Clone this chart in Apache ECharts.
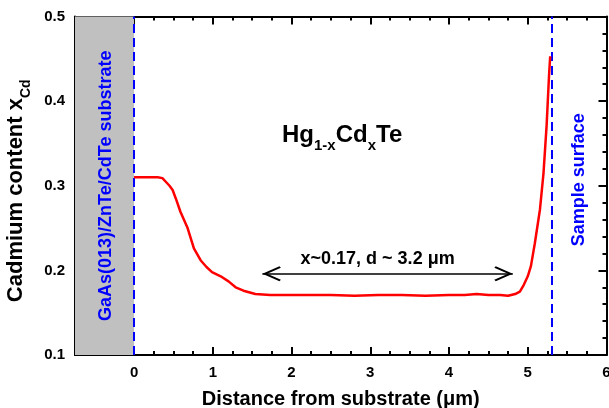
<!DOCTYPE html>
<html><head><meta charset="utf-8">
<script src="https://cdn.jsdelivr.net/npm/echarts@6/dist/echarts.min.js"></script>
<style>html,body{margin:0;padding:0;background:#fff}#c{width:609px;height:408px}</style>
</head><body><div id="c"></div>
<script>
// ---- data ----
const distance = [0, 0.1, 0.2, 0.3, 0.36, 0.40, 0.45, 0.49, 0.53, 0.59, 0.68, 0.76, 0.845, 0.92, 0.99, 1.10, 1.20, 1.29, 1.39, 1.54, 1.73, 1.94, 2.2, 2.5, 2.8, 3.1, 3.4, 3.7, 4.0, 4.2, 4.35, 4.5, 4.65, 4.75, 4.84, 4.90, 4.95, 5.00, 5.04, 5.09, 5.155, 5.20, 5.24, 5.27, 5.285];
const xCd = [0.310, 0.310, 0.310, 0.310, 0.309, 0.305, 0.300, 0.295, 0.285, 0.269, 0.250, 0.226, 0.212, 0.204, 0.198, 0.193, 0.187, 0.180, 0.176, 0.172, 0.171, 0.171, 0.171, 0.171, 0.170, 0.171, 0.171, 0.170, 0.171, 0.171, 0.172, 0.171, 0.171, 0.170, 0.172, 0.175, 0.183, 0.193, 0.205, 0.232, 0.272, 0.315, 0.372, 0.430, 0.453];
const xMajorTicks = [0, 1, 2, 3, 4, 5, 6];
const xRange = [-0.75, 6];
const yRange = [0.1, 0.5];
const substrateEdge = 0;
const surfaceEdge = 5.3;
const arrowSpan = [1.63, 4.81];
const arrowLevel = 0.196;

const FONT = "Arial, 'Liberation Sans', sans-serif";
const BLUE = '#0000ff';
const chevron = 'path://M5,1.1 L5.01,1.1 L5,1.11 Z M5,10 L10,18.2 L9,18.9 L5,12.3 L1,18.9 L0,18.2 Z';
const AXIS_LINE = {show: true, onZero: false, lineStyle: {color: '#000', width: 2}};

const xBase = (pos, extra) => Object.assign({
  type: 'value', min: xRange[0], max: xRange[1], position: pos,
  splitLine: {show: false}, minorTick: {show: false}
}, extra);
const yBase = (pos, extra) => Object.assign({
  type: 'value', min: yRange[0], max: yRange[1], interval: 0.1, position: pos,
  splitLine: {show: false},
  axisLine: AXIS_LINE,
  axisTick: {show: true, inside: true, length: 8, lineStyle: {color: '#000', width: 2}},
  minorTick: {show: true, splitNumber: 5, length: 4, lineStyle: {color: '#000', width: 2}}
}, extra);

const majorX = (pos, labels) => xBase(pos, {
  axisLine: AXIS_LINE,
  axisTick: {show: true, inside: true, length: 8, customValues: xMajorTicks, lineStyle: {color: '#000', width: 2}},
  axisLabel: labels ? {show: true, customValues: xMajorTicks, margin: 10, color: '#000', fontSize: 15, fontWeight: 'bold', fontFamily: FONT} : {show: false}
});
const minorX = (pos) => xBase(pos, {
  interval: 0.25,
  axisLine: AXIS_LINE,
  axisTick: {show: true, inside: true, length: 4, lineStyle: {color: '#000', width: 2}},
  axisLabel: {show: false}
});

const chart = echarts.init(document.getElementById('c'), null, {renderer: 'canvas'});
chart.setOption({
  animation: false,
  backgroundColor: '#fff',
  grid: {left: 75, right: 2.5, top: 16.5, bottom: 53, containLabel: false, outerBoundsMode: 'none'},
  title: {
    text: '{m|Hg}{s|1-x}{m|Cd}{s|x}{m|Te}',
    left: 277, top: 112,
    textStyle: {rich: {
      m: {fontSize: 24, fontWeight: 'bold', fontFamily: FONT, color: '#000', lineHeight: 36},
      s: {fontSize: 15, fontWeight: 'bold', fontFamily: FONT, color: '#000', lineHeight: 15, verticalAlign: 'bottom'}
    }}
  },
  xAxis: [
    minorX('bottom'),
    Object.assign(majorX('bottom', true), {
      name: 'Distance from substrate (μm)', nameLocation: 'middle', nameGap: 34,
      nameTextStyle: {fontSize: 20, fontWeight: 'bold', fontFamily: FONT, color: '#000', verticalAlign: 'top'}
    }),
    minorX('top'),
    majorX('top', false)
  ],
  yAxis: [
    yBase('left', {
      axisLabel: {show: true, margin: 10, color: '#000', fontSize: 15, fontWeight: 'bold', fontFamily: FONT,
        formatter: v => v.toFixed(1)},
      name: '{m|Cadmium content x}{s|Cd}', nameLocation: 'middle', nameRotate: 90, nameGap: 26,
      nameTextStyle: {padding: [0, 10, 0, 0], rich: {
        m: {fontSize: 22, fontWeight: 'bold', fontFamily: FONT, color: '#000', lineHeight: 34},
        s: {fontSize: 14, fontWeight: 'bold', fontFamily: FONT, color: '#000', lineHeight: 14, verticalAlign: 'bottom'}
      }}
    }),
    yBase('right', {axisLabel: {show: false}})
  ],
  series: [{
    type: 'line',
    xAxisIndex: 0, yAxisIndex: 0,
    data: distance.map((d, i) => [d, xCd[i]]),
    showSymbol: false,
    lineStyle: {color: '#ff0000', width: 2.5},
    itemStyle: {color: '#ff0000'},
    z: 5,
    markArea: {
      silent: true,
      itemStyle: {color: '#c0c0c0', opacity: 1},
      data: [[{xAxis: xRange[0]}, {xAxis: substrateEdge}]]
    },
    markLine: {
      silent: true,
      symbol: 'none',
      animation: false,
      data: [
        {xAxis: substrateEdge,
         lineStyle: {color: BLUE, width: 2, type: [9, 5]},
         label: {show: true, position: 'insideMiddleTop', distance: 19, formatter: 'GaAs(013)/ZnTe/CdTe substrate',
           color: BLUE, fontSize: 18, fontWeight: 'bold', fontFamily: FONT}},
        {xAxis: surfaceEdge,
         lineStyle: {color: BLUE, width: 2, type: [9, 5]},
         label: {show: true, position: 'insideMiddleBottom', distance: 19, formatter: 'Sample surface',
           color: BLUE, fontSize: 18, fontWeight: 'bold', fontFamily: FONT, padding: [0, 0, 0, 12]}},
        [
          {coord: [arrowSpan[0], arrowLevel], symbol: chevron, symbolSize: [15, 37]},
          {coord: [arrowSpan[1], arrowLevel], symbol: chevron, symbolSize: [15, 37],
           lineStyle: {color: '#000', width: 1.5, type: 'solid'},
           itemStyle: {color: '#000'},
           label: {show: true, position: 'middle', distance: 6, formatter: 'x~0.17, d ~ 3.2 μm',
             padding: [0, 20, 0, 0],
             color: '#000', fontSize: 18, fontWeight: 'bold', fontFamily: FONT}}
        ]
      ]
    }
  }]
});
</script>
</body></html>
